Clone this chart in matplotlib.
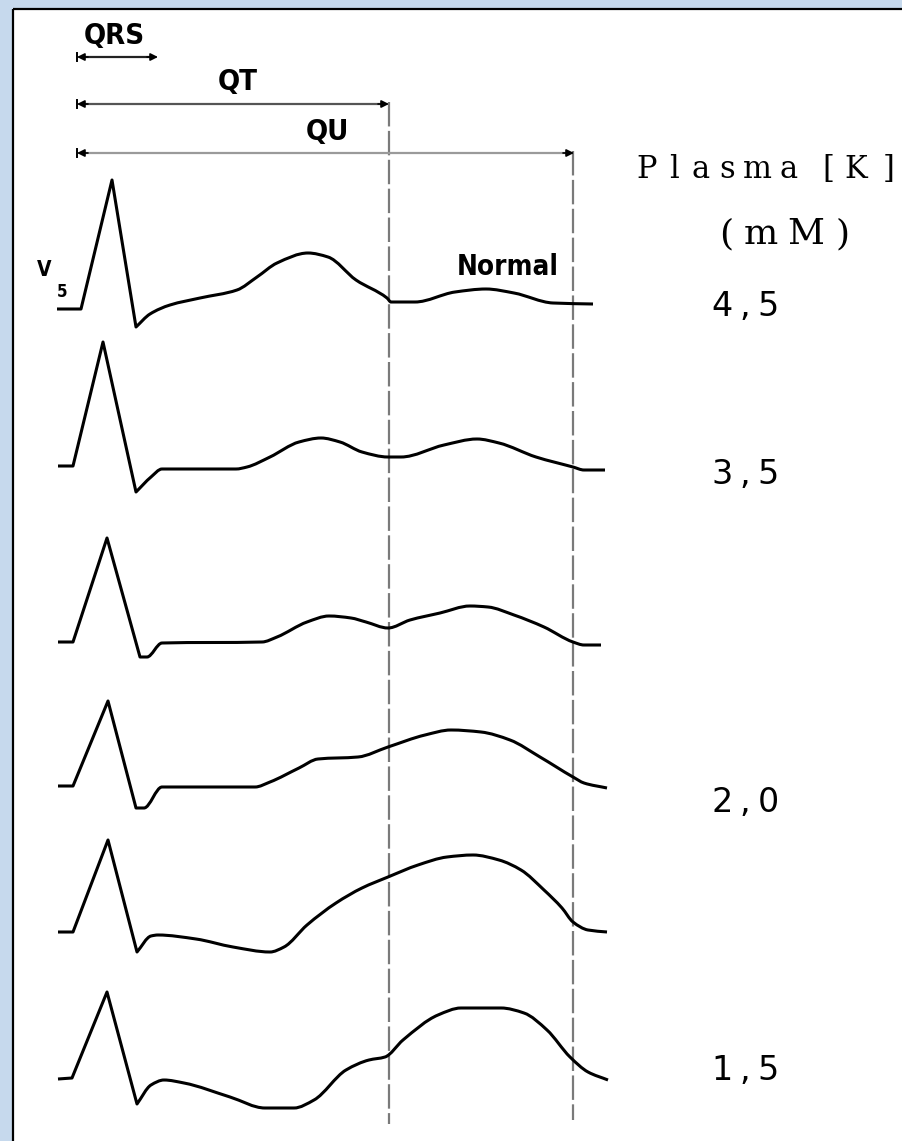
import matplotlib
matplotlib.use("Agg")
import matplotlib.pyplot as plt
from matplotlib.patches import Rectangle, PathPatch
from matplotlib.path import Path

# ---------------- data ----------------
# Plasma potassium labels (mM); None = trace without label
k_labels = ["4,5", "3,5", None, "2,0", None, "1,5"]

# time axis positions (x) and amplitudes (+ = up, relative to each baseline)
t1 = [57, 81, 112, 136, 150, 170, 200, 237, 257, 277, 308, 328, 356, 387, 391, 415, 455, 486, 514, 553, 593]
v1 = [0, 0, 129, -18, -5, 4, 11, 19, 32, 46, 56, 52, 29, 11, 7, 7, 17, 20, 16, 6, 5]

t2 = [58, 73, 103, 136, 151, 162, 236, 247, 270, 299, 321, 340, 362, 388, 401, 444, 477, 499, 536, 573, 584, 605]
v2 = [0, 0, 124, -26, -11, -3, -3, -1, 9, 24, 28, 24, 14, 9, 9, 21, 27, 23, 9, -1, -4, -4]

t3 = [58, 73, 107, 140, 147, 162, 262, 277, 307, 329, 351, 366, 388, 410, 440, 470, 488, 514, 544, 573, 584, 601]
v3 = [0, 0, 104, -15, -15, -1, 0, 5, 20, 26, 24, 20, 14, 22, 29, 36, 35, 27, 15, 0, -3, -3]

t4 = [58, 73, 108, 136, 144, 162, 255, 270, 299, 318, 358, 388, 425, 451, 481, 510, 540, 573, 584, 607]
v4 = [0, 0, 85, -22, -22, -1, -1, 4, 18, 27, 29, 39, 51, 56, 54, 46, 29, 9, 3, -2]

t5 = [58, 73, 108, 137, 151, 158, 196, 233, 270, 284, 307, 336, 362, 388, 418, 447, 473, 499, 521, 544, 562, 573, 588, 607]
v5 = [0, 0, 92, -20, -4, -3, -7, -15, -20, -15, 7, 29, 44, 55, 67, 75, 77, 72, 62, 42, 24, 10, 2, 0]

t6 = [58, 72, 107, 137, 151, 164, 184, 230, 265, 294, 314, 346, 369, 385, 403, 438, 461, 501, 524, 547, 570, 588, 608]
v6 = [0, 1, 87, -25, -6, -1, -4, -18, -29, -29, -21, 9, 19, 22, 39, 64, 71, 71, 66, 49, 22, 7, -1]

traces_t = [t1, t2, t3, t4, t5, t6]
traces_v = [v1, v2, v3, v4, v5, v6]

# interval ends on the time axis (start of QRS = 77)
q_start = 77
qrs_end = 158
qt_end = 389
qu_end = 574

# ---------------- layout ----------------
baselines = [309, 466, 642, 786, 932, 1079]
label_y = {"4,5": 316, "3,5": 484, "2,0": 812, "1,5": 1080}

W, H = 903, 1141
fig = plt.figure(figsize=(W / 100, H / 100), dpi=100)
fig.patch.set_facecolor("#C6D9ED")
ax = fig.add_axes([0, 0, 1, 1])
ax.set_xlim(0, W)
ax.set_ylim(H, 0)
ax.axis("off")

# white panel with black top/left frame
ax.add_patch(Rectangle((13, 9), W - 13, H - 9, facecolor="white", edgecolor="none", zorder=0))
ax.plot([13, W], [9, 9], color="black", lw=1.6, solid_capstyle="butt", zorder=5)
ax.plot([13, 13], [9, H], color="black", lw=1.6, solid_capstyle="butt", zorder=5)

# dashed reference lines
ax.plot([qt_end, qt_end], [102, 1124], color="#7a7a7a", lw=1.6, linestyle=(0, (11, 2)), zorder=1)
ax.plot([qu_end - 1, qu_end - 1], [151, 1120], color="#7a7a7a", lw=1.6, linestyle=(0, (11, 2)), zorder=1)


# ECG traces: sharp QRS, then a smooth monotone-cubic rendering through the read points
def trace_path(xs, ys, n_sharp=4):
    verts = [(xs[0], ys[0])]
    codes = [Path.MOVETO]
    for i in range(1, n_sharp):
        verts.append((xs[i], ys[i]))
        codes.append(Path.LINETO)
    sx = xs[n_sharp - 1:]
    sy = ys[n_sharp - 1:]
    n = len(sx)
    sec = [(sy[i + 1] - sy[i]) / (sx[i + 1] - sx[i]) for i in range(n - 1)]
    m = [0.0] * n
    m[0] = sec[0]
    m[-1] = sec[-1]
    for i in range(1, n - 1):
        a, b = sec[i - 1], sec[i]
        if a * b <= 0:
            m[i] = 0.0
        else:
            h0 = sx[i] - sx[i - 1]
            h1 = sx[i + 1] - sx[i]
            w1, w2 = 2 * h1 + h0, h1 + 2 * h0
            m[i] = (w1 + w2) / (w1 / a + w2 / b)
    for i in range(n - 1):
        h = sx[i + 1] - sx[i]
        verts += [(sx[i] + h / 3, sy[i] + m[i] * h / 3),
                  (sx[i + 1] - h / 3, sy[i + 1] - m[i + 1] * h / 3),
                  (sx[i + 1], sy[i + 1])]
        codes += [Path.CURVE4] * 3
    return Path(verts, codes)


for t, v, b in zip(traces_t, traces_v, baselines):
    ys = [b - a for a in v]
    ax.add_patch(PathPatch(trace_path(t, ys), facecolor="none", edgecolor="black",
                           lw=2.2, joinstyle="round", capstyle="butt", zorder=3))


# interval arrows
def span(x0, x1, y, color):
    ax.plot([x0 + 6, x1 - 6], [y, y], color=color, lw=1.6, zorder=2)
    for xa, xb in ((x0 + 11, x0), (x1 - 11, x1)):
        ax.annotate("", xy=(xb, y), xytext=(xa, y),
                    arrowprops=dict(arrowstyle="-|>", color="black", lw=1.2,
                                    mutation_scale=11, shrinkA=0, shrinkB=0), zorder=4)
    ax.plot([x0, x0], [y - 4, y + 4], color="black", lw=1.4, zorder=4)


span(q_start, qrs_end, 57, "#222222")
span(q_start, qt_end, 104, "#555555")
span(q_start, qu_end, 153, "#9a9a9a")

cond = dict(family="DejaVu Sans", stretch="condensed", weight="bold")
ax.text(114, 36, "QRS", ha="center", va="center", fontsize=21, **cond)
ax.text(238, 82, "QT", ha="center", va="center", fontsize=21, **cond)
ax.text(327, 132, "QU", ha="center", va="center", fontsize=21, **cond)
ax.text(508, 267, "Normal", ha="center", va="center", fontsize=20, **cond)
ax.text(44, 270, "V", ha="center", va="center", fontsize=15, **cond)
ax.text(62, 292, "5", ha="center", va="center", fontsize=12, **cond)


# right-hand labels, characters spaced out like the reference
def spaced(s, xs, y, **kw):
    for ch, x in zip(s, xs):
        if ch != " ":
            ax.text(x, y, ch, ha="center", va="baseline", **kw)


spaced("Plasma [K]", [647, 674, 701, 727, 757, 789, 809, 828, 856, 889], 178,
       fontsize=22, family="DejaVu Serif")
spaced("(mM)", [726, 761, 806, 843], 244, fontsize=26, family="DejaVu Serif")

for lab in k_labels:
    if lab is None:
        continue
    spaced(lab, [722, 745, 768], label_y[lab], fontsize=24, family="DejaVu Sans")

fig.savefig("out.png", dpi=100, facecolor=fig.get_facecolor())
